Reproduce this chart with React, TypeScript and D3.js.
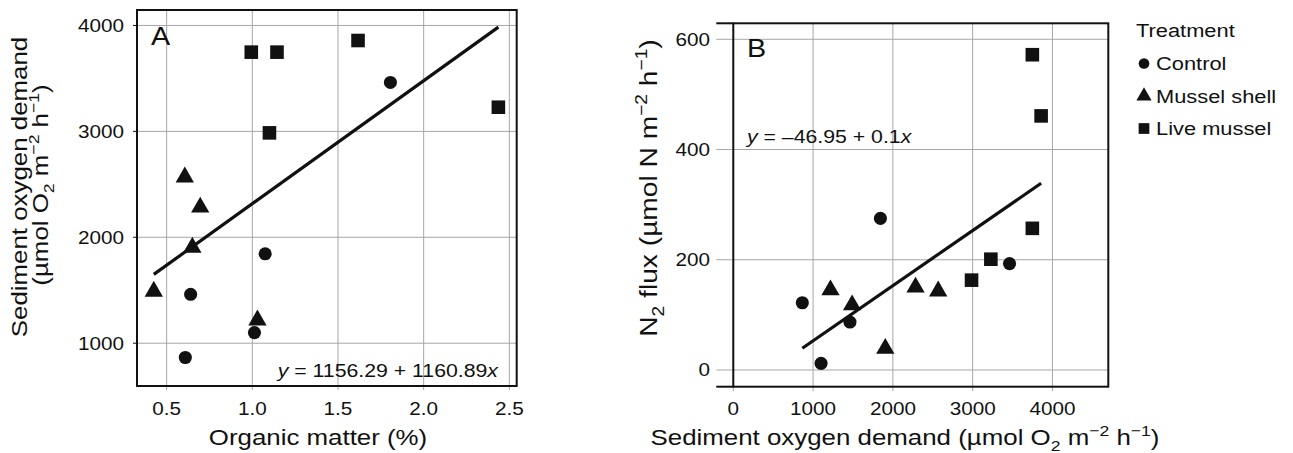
import React from "react";
import * as d3 from "d3";

// ---------- data ----------
const treatments = ["Control", "Mussel shell", "Live mussel"];

const controlOM = [1.806, 1.075, 0.64, 1.0125, 0.609];
const controlSOD = [3462, 1844, 1462, 1100, 865];
const controlN2 = [193, 275, 87, 12, 122];

const shellOM = [0.606, 0.696, 0.65, 0.425, 1.03];
const shellSOD = [2568, 2284, 1905, 1489, 1218];
const shellN2 = [143, 150, 39, 118, 145];

const liveOM = [0.994, 1.144, 1.617, 1.1, 2.436];
const liveSOD = [3748, 3748, 3858, 2986, 3228];
const liveN2 = [572, 257, 461, 163, 201];

const omTicks = [0.5, 1.0, 1.5, 2.0, 2.5];
const sodTicksA = [1000, 2000, 3000, 4000];
const sodTicksB = [0, 1000, 2000, 3000, 4000];
const n2Ticks = [0, 200, 400, 600];

const regA = [1156.29, 1160.89];
const regB = [-46.95, 0.1];

// ---------- style ----------
const FONT = "'Liberation Sans', Arial, Helvetica, sans-serif";
const SX = 1.15;
const GRID = "#a6a6a6";
const INK = "#111";

const shapes: Record<string, any> = {
  Control: d3.symbolCircle,
  "Mussel shell": d3.symbolTriangle,
  "Live mussel": d3.symbolSquare,
};
const sizes: Record<string, number> = { Control: 135, "Mussel shell": 145, "Live mussel": 185 };
const legendSizes: Record<string, number> = { Control: 90, "Mussel shell": 100, "Live mussel": 115 };

type Seg = [string, string];

function rich(segs: Seg[], size: number) {
  let cur = 0;
  return segs.map(([s, k], i) => {
    const target = k === "sub" ? size * 0.28 : k === "sup" ? -size * 0.4 : 0;
    const dy = target - cur;
    cur = target;
    const small = k === "sub" || k === "sup";
    return (
      <tspan
        key={i}
        dy={dy}
        fontSize={small ? size * 0.68 : size}
        fontStyle={k === "i" ? "italic" : "normal"}
      >
        {s}
      </tspan>
    );
  });
}

function T(props: any) {
  const { x, y, size, anchor = "start", rotate = 0, children } = props;
  return (
    <text
      transform={`translate(${x},${y})${rotate ? ` rotate(${rotate})` : ""} scale(${SX},1)`}
      fontSize={size}
      textAnchor={anchor}
      fontFamily={FONT}
      fill={INK}
    >
      {children}
    </text>
  );
}

function groupsA() {
  return [
    { t: "Control", x: controlOM, y: controlSOD },
    { t: "Mussel shell", x: shellOM, y: shellSOD },
    { t: "Live mussel", x: liveOM, y: liveSOD },
  ];
}
function groupsB() {
  return [
    { t: "Control", x: controlSOD, y: controlN2 },
    { t: "Mussel shell", x: shellSOD, y: shellN2 },
    { t: "Live mussel", x: liveSOD, y: liveN2 },
  ];
}

export default function App() {
  const tickFs = 18;
  const titleFs = 22.5;
  const eqFs = 18.5;

  // Panel A scales
  const xA = d3.scaleLinear().domain([0.327, 2.543]).range([137, 516.7]);
  const yA = d3.scaleLinear().domain([596, 4146]).range([386, 10]);
  // Panel B scales
  const xB = d3.scaleLinear().domain([0, 4700]).range([733.3, 1108.3]);
  const yB = d3.scaleLinear().domain([-30.3, 629]).range([386.7, 23.3]);

  const allOM = [...controlOM, ...shellOM, ...liveOM];
  const allSOD = [...controlSOD, ...shellSOD, ...liveSOD];
  const omExt = d3.extent(allOM) as [number, number];
  const sodExt = d3.extent(allSOD) as [number, number];

  const lineA = d3
    .line<number>()
    .x((d) => xA(d))
    .y((d) => yA(regA[0] + regA[1] * d));
  const lineB = d3
    .line<number>()
    .x((d) => xB(d))
    .y((d) => yB(regB[0] + regB[1] * d));

  const sym = (t: string, s: number) => d3.symbol(shapes[t], s)() as string;

  const [ax0, ax1] = xA.range();
  const [ay0, ay1] = yA.range();
  const [bx0, bx1] = xB.range();
  const [by0, by1] = yB.range();

  const unitSegs: Seg[] = [
    ["(µmol O", "n"],
    ["2", "sub"],
    [" m", "n"],
    ["−2", "sup"],
    [" h", "n"],
    ["−1", "sup"],
    [")", "n"],
  ];

  return (
    <svg
      width={1293}
      height={453}
      style={{ position: "absolute", left: 0, top: 0, background: "#fff" }}
    >
      <rect x={0} y={0} width={1293} height={453} fill="#fff" />

      {/* ================= Panel A ================= */}
      <g>
        {omTicks.map((t) => (
          <line key={"agx" + t} x1={xA(t)} x2={xA(t)} y1={ay1} y2={ay0} stroke={GRID} strokeWidth={1} />
        ))}
        {sodTicksA.map((t) => (
          <line key={"agy" + t} x1={ax0} x2={ax1} y1={yA(t)} y2={yA(t)} stroke={GRID} strokeWidth={1} />
        ))}
        {omTicks.map((t) => (
          <line key={"atx" + t} x1={xA(t)} x2={xA(t)} y1={ay0} y2={ay0 + 4} stroke={GRID} strokeWidth={1} />
        ))}
        {sodTicksA.map((t) => (
          <line key={"aty" + t} x1={ax0 - 4} x2={ax0} y1={yA(t)} y2={yA(t)} stroke={INK} strokeWidth={1} />
        ))}
        {omTicks.map((t) => (
          <T key={"atl" + t} x={xA(t)} y={415} size={tickFs} anchor="middle">
            {d3.format(".1f")(t)}
          </T>
        ))}
        {sodTicksA.map((t) => (
          <T key={"ayl" + t} x={124} y={yA(t) + 6.5} size={tickFs} anchor="end">
            {t}
          </T>
        ))}

        {groupsA().map((g) =>
          g.x.map((v, i) => (
            <path
              key={g.t + i}
              d={sym(g.t, sizes[g.t])}
              transform={`translate(${xA(v)},${yA(g.y[i])})`}
              fill={INK}
            />
          ))
        )}
        <path d={lineA(omExt) as string} stroke={INK} strokeWidth={3.2} fill="none" />

        <rect x={ax0} y={ay1} width={ax1 - ax0} height={ay0 - ay1} fill="none" stroke={INK} strokeWidth={2} />

        <T x={151} y={45} size={25}>A</T>
        <T x={498} y={377} size={eqFs} anchor="end">
          {rich(
            [
              ["y", "i"],
              [` = ${regA[0]} + ${regA[1]}`, "n"],
              ["x", "i"],
            ],
            eqFs
          )}
        </T>

        <T x={318} y={445} size={titleFs} anchor="middle">Organic matter (%)</T>
        <T x={27} y={187} size={titleFs} anchor="middle" rotate={-90}>
          Sediment oxygen demand
        </T>
        <T x={48} y={185} size={titleFs} anchor="middle" rotate={-90}>
          {rich(unitSegs, titleFs)}
        </T>
      </g>

      {/* ================= Panel B ================= */}
      <g>
        {sodTicksB.map((t) => (
          <line key={"bgx" + t} x1={xB(t)} x2={xB(t)} y1={by1} y2={by0} stroke={GRID} strokeWidth={1} />
        ))}
        {n2Ticks.map((t) => (
          <line key={"bgy" + t} x1={bx0 - 17} x2={bx1} y1={yB(t)} y2={yB(t)} stroke={GRID} strokeWidth={1} />
        ))}
        {sodTicksB.map((t) => (
          <line key={"btx" + t} x1={xB(t)} x2={xB(t)} y1={by0} y2={by0 + 4.5} stroke={GRID} strokeWidth={1} />
        ))}
        {sodTicksB.map((t) => (
          <T key={"btl" + t} x={xB(t)} y={415} size={tickFs} anchor="middle">
            {t}
          </T>
        ))}
        {n2Ticks.map((t) => (
          <T key={"byl" + t} x={710} y={yB(t) + 6.5} size={tickFs} anchor="end">
            {t}
          </T>
        ))}

        {groupsB().map((g) =>
          g.x.map((v, i) => (
            <path
              key={g.t + i}
              d={sym(g.t, sizes[g.t])}
              transform={`translate(${xB(v)},${yB(g.y[i])})`}
              fill={INK}
            />
          ))
        )}
        <path d={lineB(sodExt) as string} stroke={INK} strokeWidth={3.2} fill="none" />

        <rect x={bx0} y={by1} width={bx1 - bx0} height={by0 - by1} fill="none" stroke={INK} strokeWidth={2} />
        <line x1={bx0 - 17} x2={bx0} y1={by1} y2={by1} stroke={INK} strokeWidth={2} />
        <line x1={bx0 - 17} x2={bx0} y1={by0} y2={by0} stroke={INK} strokeWidth={2} />

        <T x={747} y={57} size={25}>B</T>
        <T x={747} y={143} size={eqFs}>
          {rich(
            [
              ["y", "i"],
              [` = –${Math.abs(regB[0])} + ${regB[1]}`, "n"],
              ["x", "i"],
            ],
            eqFs
          )}
        </T>

        <T x={905} y={445} size={titleFs} anchor="middle">
          {rich([["Sediment oxygen demand ", "n"], ...unitSegs], titleFs)}
        </T>
        <T x={657} y={188} size={24.5} anchor="middle" rotate={-90}>
          {rich(
            [
              ["N", "n"],
              ["2", "sub"],
              [" flux (µmol N m", "n"],
              ["−2", "sup"],
              [" h", "n"],
              ["−1", "sup"],
              [")", "n"],
            ],
            24.5
          )}
        </T>
      </g>

      {/* ================= Legend ================= */}
      <g>
        <T x={1136} y={37} size={19}>Treatment</T>
        {treatments.map((t, i) => (
          <g key={t}>
            <path d={sym(t, legendSizes[t])} transform={`translate(${1144},${63.5 + i * 32.5})`} fill={INK} />
            <T x={1156} y={70 + i * 32.5} size={19}>{t}</T>
          </g>
        ))}
      </g>
    </svg>
  );
}
